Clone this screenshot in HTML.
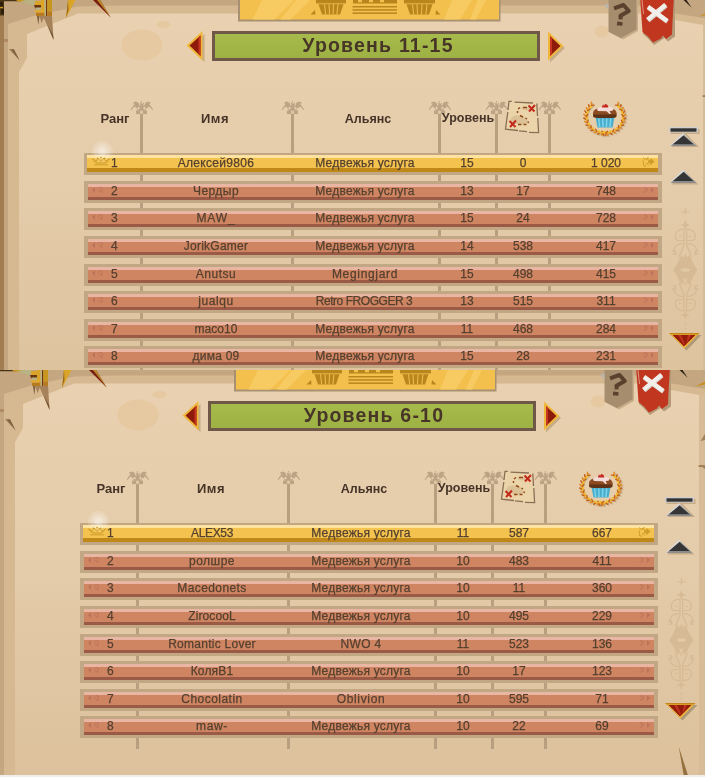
<!DOCTYPE html>
<html><head><meta charset="utf-8"><title>Ranking</title><style>
html,body{margin:0;padding:0}
body{width:705px;height:777px;overflow:hidden;position:relative;background:#dfc6a3;font-family:"Liberation Sans",sans-serif}
.panel{position:absolute;width:709px;overflow:hidden;background:linear-gradient(#e9d1b1 0px,#e4cba9 200px,#dcc19c 407px)}
.panel *{position:absolute}
.bg{left:0;top:0}
.title{left:212px;top:31px;width:322px;height:24px;border:3px solid #6f5848;background:linear-gradient(#a7bb4c,#9db144);}
.title span{left:4px;right:0;top:-1px;height:24px;line-height:24px;text-align:center;font-weight:bold;font-size:19.5px;letter-spacing:1.2px;color:#473628}
.h{top:111px;height:16px;line-height:16px;font-weight:bold;font-size:12.5px;color:#463428;text-align:center;width:80px;margin-left:-40px;white-space:nowrap}
.row{left:84px;width:578px;height:22px;background:#c2a784}
.in{left:4px;top:3px;width:570px;height:16px;background:linear-gradient(#eab6a4 0,#eab6a4 3px,#d08562 3px,#d08562 13px,#9b5a45 13px)}
.gold .in{left:3px;top:2px;width:571px;height:17px;background:linear-gradient(#fde2a0 0,#fde2a0 3px,#f3c24f 3px,#f3c24f 13.3px,#c08818 13.3px)}
.c{top:0;height:17px;line-height:17px;font-size:12px;color:#54402f;text-align:center;width:140px;margin-left:-70px;white-space:nowrap}
.c{-webkit-text-stroke:.25px #54402f}
.c,.h,.title span{will-change:transform}
.c{top:-1px}
.gold .c{top:0}
</style></head><body>
<div class="panel" style="left:0px;top:0px;height:370px">
<svg class="bg" width="709" height="407" viewBox="0 0 709 407">
<ellipse cx="142" cy="45" rx="20.5" ry="15.5" fill="#e6c9a0"/>
<ellipse cx="163.5" cy="24.5" rx="7" ry="3.5" fill="#e6c9a0"/>
<ellipse cx="602" cy="31.500" rx="7.500" ry="6" fill="#e6c9a0"/>
<!-- top band -->
<path d="M0 0H709V26L675 20 640 13.500 78 13.500 27 34V58L19 72V407H0z" fill="#d6b991"/>
<path d="M0 0H709V19L673 13 640 5.500 120 5.500 78 6.500 37 15 8 24V407H0z" fill="#c4a680"/>
<rect x="0" y="0" width="4" height="407" fill="#a37d52"/>
<rect x="4" y="39" width="4" height="3" fill="#d2b38b"/>
<rect x="703" y="25" width="6" height="382" fill="#d8bc97"/>
<!-- top-left dark texture -->
<path d="M0 0H20V1.200H4V15.500H0z" fill="#4a3514"/>
<path d="M0 2h3v4H0zM1 9h3v5H1z" fill="#2e1f0a"/>
<path d="M0 7h3v1.200H0zM16 0h10l-2 2.500-6-1z" fill="#c8961e"/>
<path d="M20 1.500L26 0H36.500L35 4 32.500 5.500 27 3.500z" fill="#b9b383"/>
<rect x="4" y="39" width="4" height="3" fill="#b08a60"/>
<!-- spikes -->
<path d="M35 1h6.500v4H35z" fill="#d9a428"/>
<path d="M34 5h7v3.200h-6z" fill="#6b3510"/>
<path d="M35.500 7.500h5.500v2.700h-4z" fill="#b9b383"/>
<path d="M41 0h3.500v12.500H41z" fill="#d9a428"/>
<path d="M44.500 0h1.500v16h-1.500z" fill="#b9b383"/>
<path d="M46 0h1.200v16H46z" fill="#6b3510"/>
<path d="M47.200 0H52v11.500h-4.800z" fill="#c8961e"/>
<path d="M35 10.200h9.500v2.500H35z" fill="#e0aa30"/>
<path d="M36 12.700h8.500V16H36zM47.200 11.500H52V16h-4.800z" fill="#b87a20"/>
<path d="M37 16h2.500l-1.200 9z" fill="#7a6040"/>
<path d="M39.500 16H52l1.600 24-6.600-15-3.200-7.200-2.300 5.400z" fill="#a58259"/>
<path d="M47.500 25.500l6.100 14.500-.6-5z" fill="#6b5030"/>
<path d="M68 0h7.500l-9.500 18z" fill="#d9a428"/>
<path d="M68 0l-2 18 2.500-8z" fill="#9a6a1c"/>
<path d="M93 0h7l10.600 17.500z" fill="#7a1c10"/>
<path d="M97 0h3l10.600 17.500z" fill="#b98a2a"/>
<path d="M9 49l5 .5 5.600 11z" fill="#94774f"/>
<path d="M11.500 49.300l2.500.2 5.600 11z" fill="#7a6040"/>
<!-- top-right spikes -->
<path d="M683.500 0h3l5.200 7.800z" fill="#2c2014"/>
<path d="M709 11.500v3l-10 2z" fill="#c98f22"/>
<path d="M702 95.500h4v1.500h-3z" fill="#9a7a50"/>
<path d="M709 64l-4.500 7 4.500-1z" fill="#a58259"/>
<path d="M709 95l-6 0 6 4z" fill="#a58259"/>
<path d="M682.700 376.500L688 407h4.500z" fill="#94703f"/>
</svg>
<svg style="left:236px;top:0" width="266" height="23" viewBox="236 0 266 23">
<path d="M238 0H500.500V21.500H238z" fill="#a89172"/>
<path d="M240 0H499V19.500H240z" fill="#f3c04d"/>
<path d="M262 0h32l-19.500 19.500h-22zM296 0h14l-19.500 19.500h-10zM452 0h20l-12 19.500h-16zM478 0h8l-10 19.500h-6z" fill="#f7cb62"/>
<g fill="#b9851d">
<path d="M316 0h30v3.400h-30z"/>
<path d="M318.500 4.300h25l-3.500 10.200h-18z"/>
<path d="M310.500 14.500l4.500-4.500 .5 4.500z"/>
<path d="M404 0h31v3.400h-31z"/>
<path d="M406.500 4.300h26l-3.500 10.200h-19z"/>
<path d="M440.500 14.500l-4.500-4.500-.5 4.500z"/>
<path d="M353 0h5v2.200h4V0h7v2.200h4V0h7v2.200h4V0h13v3.600h-44z"/>
<rect x="352.500" y="6" width="44.500" height="1.500"/><rect x="352.500" y="9.200" width="44.500" height="1.500"/><rect x="352.500" y="12.400" width="44.500" height="1.500"/>
</g><g stroke="#f3c04d" stroke-width="1" fill="none"><path d="M324.500 4.300l1.200 10.200M329 4.300l.5 10.200M333.500 4.300l-.5 10.200M338 4.300l-1.200 10.200M412.500 4.300l1.200 10.200M417 4.300l.5 10.200M422 4.300l-.5 10.200M427 4.300l-1.200 10.200"/></g></svg>
<svg style="left:184px;top:29px" width="24" height="35" viewBox="184 29 24 35">
<path d="M189 47.500L204.500 34V62z" fill="#b99c78" opacity=".7"/>
<path d="M186.500 45.500L202.500 31V60.500z" fill="#f0b83a"/>
<path d="M189.500 45.500L200.500 35.500V56z" fill="#8d1a0b"/>
<path d="M198.500 37.500l2-2V56l-2-2z" fill="#c5351f"/>
</svg>
<svg style="left:545px;top:29px" width="24" height="35" viewBox="545 29 24 35">
<path d="M565 48L550 34.500V62.500z" fill="#b99c78" opacity=".7"/>
<path d="M563.500 46L548 31.500V60.500z" fill="#f0b83a"/>
<path d="M560.500 46L550 36V56z" fill="#8d1a0b"/>
<path d="M550 36l2 2V54l-2 2z" fill="#c5351f"/>
</svg>
<div class="title"><span>Уровень 11-15</span></div>
<svg style="left:600px;top:0" width="80" height="50" viewBox="600 0 80 50">
<path d="M610 0H638V31L623 39.500 610.500 33z" fill="#c9ad88"/>
<path d="M608.500 0H636.500V29.500L621 38 608.500 31.800z" fill="#a68d6e"/>
<path d="M608.500 3.500l-4.500 1.500 4.500 4.500z" fill="#b9b5aa"/>
<path d="M614 8.300L623.500 5 628.800 11 620.500 15.800 620.700 19.300" fill="none" stroke="#59412e" stroke-width="4" stroke-linejoin="round"/>
<path d="M617.300 21.600l5.400 .6 -.5 3.600 -5.400-.6z" fill="#59412e"/>
<path d="M642.500 0H675V36.500L668 41.500 664.500 38 654 45 647 37.500 643 34z" fill="#b49a78"/>
<path d="M640.300 0H673.800L672.500 22 672 34.500 666 39 663 35.500 661 38.500 653 42.500 648 36.500 642.500 32z" fill="#c1361e"/>
<path d="M642 0l1.500 14" stroke="#e8b0a0" stroke-width=".8"/>
<g stroke="#d9d4cf" stroke-width="4.600" stroke-linecap="butt"><path d="M648.500 7.700L667.500 21.700"/><path d="M666 5.500L648 20.500"/></g>
<g stroke="#f2efeb" stroke-width="4.200" stroke-linecap="butt"><path d="M648 6.700L667 20.700"/><path d="M665.500 4.500L647.500 19.500"/></g>
</svg>
<div style="left:140.0px;top:113px;width:3px;height:266px;background:#b89f7f"></div>
<svg style="left:128.0px;top:99px" width="27" height="17" viewBox="128 99 27 17"><g fill="#bca383">
<rect x="136" y="110.600" width="11" height="3.500"/><rect x="137.300" y="107.500" width="8.400" height="3.200"/>
<path d="M141 101h1v3.500l1.200-1.800 .9 .4-1 3.200 1.600-1.300 .6-2.300 2.600-1.200 2.400 .7 .3 1.500-1.700-.2 1.200 1.700 1.600 2 1.400 2.600-.7 .4-2-2.700-2-1.200-.3 1.600-2.300 .4-1.300 1.800h-5.200l-1.300-1.800-2.300-.4-.3-1.600-2 1.200-2 2.700-.7-.4 1.400-2.600 1.600-2 1.200-1.700-1.700 .2 .3-1.500 2.400-.7 2.600 1.200 .6 2.300 1.600 1.300-1-3.200 .9-.4 1.200 1.800z"/>
</g><rect x="140.200" y="110.900" width="2.600" height="2.900" fill="#e3caa8"/>
<path d="M138.500 106.500l1.300 1-.3 1.700-1.500 .3-.8-1.500zM144.500 106.500l-1.300 1 .3 1.700 1.500 .3 .8-1.500z" fill="#e3caa8"/></svg>
<div style="left:291.0px;top:113px;width:3px;height:266px;background:#b89f7f"></div>
<svg style="left:279.0px;top:99px" width="27" height="17" viewBox="128 99 27 17"><g fill="#bca383">
<rect x="136" y="110.600" width="11" height="3.500"/><rect x="137.300" y="107.500" width="8.400" height="3.200"/>
<path d="M141 101h1v3.500l1.200-1.800 .9 .4-1 3.200 1.600-1.300 .6-2.300 2.600-1.200 2.400 .7 .3 1.500-1.700-.2 1.200 1.700 1.600 2 1.400 2.600-.7 .4-2-2.700-2-1.200-.3 1.600-2.300 .4-1.300 1.800h-5.200l-1.300-1.800-2.300-.4-.3-1.600-2 1.200-2 2.700-.7-.4 1.400-2.600 1.600-2 1.200-1.700-1.700 .2 .3-1.500 2.400-.7 2.600 1.200 .6 2.300 1.600 1.300-1-3.200 .9-.4 1.200 1.800z"/>
</g><rect x="140.200" y="110.900" width="2.600" height="2.900" fill="#e3caa8"/>
<path d="M138.500 106.500l1.300 1-.3 1.700-1.500 .3-.8-1.500zM144.500 106.500l-1.300 1 .3 1.700 1.500 .3 .8-1.500z" fill="#e3caa8"/></svg>
<div style="left:438.0px;top:113px;width:3px;height:266px;background:#b89f7f"></div>
<svg style="left:426.0px;top:99px" width="27" height="17" viewBox="128 99 27 17"><g fill="#bca383">
<rect x="136" y="110.600" width="11" height="3.500"/><rect x="137.300" y="107.500" width="8.400" height="3.200"/>
<path d="M141 101h1v3.500l1.200-1.800 .9 .4-1 3.200 1.600-1.300 .6-2.300 2.600-1.200 2.400 .7 .3 1.500-1.700-.2 1.200 1.700 1.600 2 1.400 2.600-.7 .4-2-2.700-2-1.200-.3 1.600-2.300 .4-1.300 1.800h-5.200l-1.300-1.800-2.300-.4-.3-1.600-2 1.200-2 2.700-.7-.4 1.400-2.600 1.600-2 1.200-1.700-1.700 .2 .3-1.500 2.400-.7 2.600 1.200 .6 2.300 1.600 1.300-1-3.200 .9-.4 1.200 1.800z"/>
</g><rect x="140.200" y="110.900" width="2.600" height="2.900" fill="#e3caa8"/>
<path d="M138.500 106.500l1.300 1-.3 1.700-1.500 .3-.8-1.500zM144.500 106.500l-1.300 1 .3 1.700 1.500 .3 .8-1.500z" fill="#e3caa8"/></svg>
<div style="left:495.0px;top:113px;width:3px;height:266px;background:#b89f7f"></div>
<svg style="left:483.0px;top:99px" width="27" height="17" viewBox="128 99 27 17"><g fill="#bca383">
<rect x="136" y="110.600" width="11" height="3.500"/><rect x="137.300" y="107.500" width="8.400" height="3.200"/>
<path d="M141 101h1v3.500l1.200-1.800 .9 .4-1 3.200 1.600-1.300 .6-2.300 2.600-1.200 2.400 .7 .3 1.500-1.700-.2 1.200 1.700 1.600 2 1.400 2.600-.7 .4-2-2.700-2-1.200-.3 1.600-2.300 .4-1.300 1.800h-5.200l-1.300-1.800-2.300-.4-.3-1.600-2 1.200-2 2.700-.7-.4 1.400-2.600 1.600-2 1.200-1.700-1.700 .2 .3-1.500 2.400-.7 2.600 1.200 .6 2.300 1.600 1.300-1-3.200 .9-.4 1.200 1.800z"/>
</g><rect x="140.200" y="110.900" width="2.600" height="2.900" fill="#e3caa8"/>
<path d="M138.500 106.500l1.300 1-.3 1.700-1.500 .3-.8-1.500zM144.500 106.500l-1.300 1 .3 1.700 1.500 .3 .8-1.500z" fill="#e3caa8"/></svg>
<div style="left:548.0px;top:113px;width:3px;height:266px;background:#b89f7f"></div>
<svg style="left:536.0px;top:99px" width="27" height="17" viewBox="128 99 27 17"><g fill="#bca383">
<rect x="136" y="110.600" width="11" height="3.500"/><rect x="137.300" y="107.500" width="8.400" height="3.200"/>
<path d="M141 101h1v3.500l1.200-1.800 .9 .4-1 3.200 1.600-1.300 .6-2.300 2.600-1.200 2.400 .7 .3 1.500-1.700-.2 1.200 1.700 1.600 2 1.400 2.600-.7 .4-2-2.700-2-1.200-.3 1.600-2.300 .4-1.300 1.800h-5.200l-1.300-1.800-2.300-.4-.3-1.600-2 1.200-2 2.700-.7-.4 1.400-2.600 1.600-2 1.200-1.700-1.700 .2 .3-1.500 2.400-.7 2.600 1.200 .6 2.300 1.600 1.300-1-3.200 .9-.4 1.200 1.800z"/>
</g><rect x="140.200" y="110.900" width="2.600" height="2.900" fill="#e3caa8"/>
<path d="M138.500 106.500l1.300 1-.3 1.700-1.500 .3-.8-1.500zM144.500 106.500l-1.300 1 .3 1.700 1.500 .3 .8-1.500z" fill="#e3caa8"/></svg>
<div class="h" style="left:115.2px;font-size:13px">Ранг</div>
<div class="h" style="left:215.3px;font-size:13px;letter-spacing:.5px">Имя</div>
<div class="h" style="left:367.7px;">Альянс</div>
<div class="h" style="left:468.3px;top:110px">Уровень</div>
<svg style="left:503px;top:98px" width="40" height="38" viewBox="503 98 40 38">
<path d="M509 101.200L537 103 538.700 132.700 526 131.500 505.300 129.200z" fill="#ecd4aa"/>
<g fill="none" stroke="#8a6f57" stroke-width="1.300"><path d="M511.800 101.300H509L508 110M507.800 112L505.500 129.200 518 130.500"/><path d="M514.500 102.200L533 103"/><path d="M536.800 103.500L537.500 116M537.800 118L538.600 132.600 529 132.400M527 131.600L519 130.800"/></g>
<path d="M511 118c3-4 9-3 13-1s5 6 1 7-9 0-12-1-3-3-2-5z" fill="#dcc096"/>
<path d="M521 108c2-2 6-1.500 8 0s-1 3-3 2.500-4-1-5-2.500z" fill="#dcc096"/>
<g stroke="#8f4a18" stroke-width="1.500" fill="none"><path d="M527 107.500h-4M520 107.500l-2 1.500M517.500 111v2M520 115.500l3 1.500M525.500 118l1.500 1M528.500 121.500l-.5 1.500M526.500 124.500h-3M521.500 124.500h-3.500"/></g>
<g stroke="#c12a1a" stroke-width="2" fill="none"><path d="M528.500 105.500l6 6M535 105l-6 6.500"/><path d="M509.500 121l6 6M516 120.500l-6 6.500"/></g>
</svg>
<svg style="left:580px;top:96px" width="50" height="44" viewBox="580 96 50 44">
<path d="M609.9 132.4 L608.0 132.8 L606.1 133.0 L604.2 133.0 L602.2 132.8 L600.3 132.5 L598.4 132.0 L596.6 131.4 L594.9 130.5 L593.3 129.6 L591.9 128.5 L590.6 127.2 L589.4 125.9 L588.4 124.4 L587.6 122.9 L586.9 121.3 L586.5 119.6 L586.2 117.9 L586.2 116.2 L586.4 114.5 L586.8 112.9 L587.3 111.3 L588.1 109.7 L589.0 108.2 L590.1 106.8 L591.4 105.5 L592.8 104.4" transform="translate(1.2 1.2)" stroke="#b9a283" stroke-width="1.600" fill="none" opacity=".7"/><path d="M608.6 134.0L606.9 136.6" stroke="#b9a283" stroke-width="1.500" stroke-linecap="round" opacity=".6"/><path d="M605.0 134.2L602.8 136.4" stroke="#b9a283" stroke-width="1.500" stroke-linecap="round" opacity=".6"/><path d="M601.5 133.7L598.9 135.5" stroke="#b9a283" stroke-width="1.500" stroke-linecap="round" opacity=".6"/><path d="M598.1 132.7L595.3 133.9" stroke="#b9a283" stroke-width="1.500" stroke-linecap="round" opacity=".6"/><path d="M595.1 131.1L592.0 131.7" stroke="#b9a283" stroke-width="1.500" stroke-linecap="round" opacity=".6"/><path d="M592.4 129.0L589.3 129.1" stroke="#b9a283" stroke-width="1.500" stroke-linecap="round" opacity=".6"/><path d="M590.2 126.6L587.2 126.1" stroke="#b9a283" stroke-width="1.500" stroke-linecap="round" opacity=".6"/><path d="M588.6 123.8L585.7 122.7" stroke="#b9a283" stroke-width="1.500" stroke-linecap="round" opacity=".6"/><path d="M587.7 120.8L585.0 119.2" stroke="#b9a283" stroke-width="1.500" stroke-linecap="round" opacity=".6"/><path d="M587.4 117.7L585.1 115.6" stroke="#b9a283" stroke-width="1.500" stroke-linecap="round" opacity=".6"/><path d="M587.8 114.6L586.0 112.1" stroke="#b9a283" stroke-width="1.500" stroke-linecap="round" opacity=".6"/><path d="M588.9 111.7L587.5 108.9" stroke="#b9a283" stroke-width="1.500" stroke-linecap="round" opacity=".6"/><path d="M590.6 108.9L589.8 105.9" stroke="#b9a283" stroke-width="1.500" stroke-linecap="round" opacity=".6"/><path d="M592.8 106.5L592.6 103.5" stroke="#b9a283" stroke-width="1.500" stroke-linecap="round" opacity=".6"/><path d="M599.7 132.4 L601.6 132.8 L603.5 133.0 L605.4 133.0 L607.4 132.8 L609.3 132.5 L611.2 132.0 L613.0 131.4 L614.7 130.5 L616.3 129.6 L617.7 128.5 L619.0 127.2 L620.2 125.9 L621.2 124.4 L622.0 122.9 L622.7 121.3 L623.1 119.6 L623.4 117.9 L623.4 116.2 L623.2 114.5 L622.8 112.9 L622.3 111.3 L621.5 109.7 L620.6 108.2 L619.5 106.8 L618.2 105.5 L616.8 104.4" transform="translate(1.2 1.2)" stroke="#b9a283" stroke-width="1.600" fill="none" opacity=".7"/><path d="M603.4 134.0L605.1 136.6" stroke="#b9a283" stroke-width="1.500" stroke-linecap="round" opacity=".6"/><path d="M607.0 134.2L609.2 136.4" stroke="#b9a283" stroke-width="1.500" stroke-linecap="round" opacity=".6"/><path d="M610.5 133.7L613.1 135.5" stroke="#b9a283" stroke-width="1.500" stroke-linecap="round" opacity=".6"/><path d="M613.9 132.7L616.7 133.9" stroke="#b9a283" stroke-width="1.500" stroke-linecap="round" opacity=".6"/><path d="M616.9 131.1L620.0 131.7" stroke="#b9a283" stroke-width="1.500" stroke-linecap="round" opacity=".6"/><path d="M619.6 129.0L622.7 129.1" stroke="#b9a283" stroke-width="1.500" stroke-linecap="round" opacity=".6"/><path d="M621.8 126.6L624.8 126.1" stroke="#b9a283" stroke-width="1.500" stroke-linecap="round" opacity=".6"/><path d="M623.4 123.8L626.3 122.7" stroke="#b9a283" stroke-width="1.500" stroke-linecap="round" opacity=".6"/><path d="M624.3 120.8L627.0 119.2" stroke="#b9a283" stroke-width="1.500" stroke-linecap="round" opacity=".6"/><path d="M624.6 117.7L626.9 115.6" stroke="#b9a283" stroke-width="1.500" stroke-linecap="round" opacity=".6"/><path d="M624.2 114.6L626.0 112.1" stroke="#b9a283" stroke-width="1.500" stroke-linecap="round" opacity=".6"/><path d="M623.1 111.7L624.5 108.9" stroke="#b9a283" stroke-width="1.500" stroke-linecap="round" opacity=".6"/><path d="M621.4 108.9L622.2 105.9" stroke="#b9a283" stroke-width="1.500" stroke-linecap="round" opacity=".6"/><path d="M619.2 106.5L619.4 103.5" stroke="#b9a283" stroke-width="1.500" stroke-linecap="round" opacity=".6"/><path d="M609.9 132.4 L608.0 132.8 L606.1 133.0 L604.2 133.0 L602.2 132.8 L600.3 132.5 L598.4 132.0 L596.6 131.4 L594.9 130.5 L593.3 129.6 L591.9 128.5 L590.6 127.2 L589.4 125.9 L588.4 124.4 L587.6 122.9 L586.9 121.3 L586.5 119.6 L586.2 117.9 L586.2 116.2 L586.4 114.5 L586.8 112.9 L587.3 111.3 L588.1 109.7 L589.0 108.2 L590.1 106.8 L591.4 105.5 L592.8 104.4" stroke="#f3bd2f" stroke-width="1.400" fill="none"/><path d="M607.4 132.8L605.7 135.4" stroke="#c4621b" stroke-width="1.500" stroke-linecap="round"/><path d="M607.4 132.8L605.1 131.5" stroke="#f3bd2f" stroke-width="1.300" stroke-linecap="round"/><path d="M603.8 133.0L601.6 135.2" stroke="#e08a22" stroke-width="1.500" stroke-linecap="round"/><path d="M603.8 133.0L601.9 131.3" stroke="#c4621b" stroke-width="1.300" stroke-linecap="round"/><path d="M600.3 132.5L597.7 134.3" stroke="#c4621b" stroke-width="1.500" stroke-linecap="round"/><path d="M600.3 132.5L598.7 130.5" stroke="#f3bd2f" stroke-width="1.300" stroke-linecap="round"/><path d="M596.9 131.5L594.1 132.7" stroke="#e08a22" stroke-width="1.500" stroke-linecap="round"/><path d="M596.9 131.5L595.7 129.2" stroke="#c4621b" stroke-width="1.300" stroke-linecap="round"/><path d="M593.9 129.9L590.8 130.5" stroke="#c4621b" stroke-width="1.500" stroke-linecap="round"/><path d="M593.9 129.9L593.1 127.4" stroke="#f3bd2f" stroke-width="1.300" stroke-linecap="round"/><path d="M591.2 127.8L588.1 127.9" stroke="#e08a22" stroke-width="1.500" stroke-linecap="round"/><path d="M591.2 127.8L590.9 125.3" stroke="#c4621b" stroke-width="1.300" stroke-linecap="round"/><path d="M589.0 125.4L586.0 124.9" stroke="#c4621b" stroke-width="1.500" stroke-linecap="round"/><path d="M589.0 125.4L589.2 122.8" stroke="#f3bd2f" stroke-width="1.300" stroke-linecap="round"/><path d="M587.4 122.6L584.5 121.5" stroke="#e08a22" stroke-width="1.500" stroke-linecap="round"/><path d="M587.4 122.6L588.2 120.1" stroke="#c4621b" stroke-width="1.300" stroke-linecap="round"/><path d="M586.5 119.6L583.8 118.0" stroke="#c4621b" stroke-width="1.500" stroke-linecap="round"/><path d="M586.5 119.6L587.7 117.3" stroke="#f3bd2f" stroke-width="1.300" stroke-linecap="round"/><path d="M586.2 116.5L583.9 114.4" stroke="#e08a22" stroke-width="1.500" stroke-linecap="round"/><path d="M586.2 116.5L587.8 114.5" stroke="#c4621b" stroke-width="1.300" stroke-linecap="round"/><path d="M586.6 113.4L584.8 110.9" stroke="#c4621b" stroke-width="1.500" stroke-linecap="round"/><path d="M586.6 113.4L588.6 111.8" stroke="#f3bd2f" stroke-width="1.300" stroke-linecap="round"/><path d="M587.7 110.5L586.3 107.7" stroke="#e08a22" stroke-width="1.500" stroke-linecap="round"/><path d="M587.7 110.5L590.0 109.2" stroke="#c4621b" stroke-width="1.300" stroke-linecap="round"/><path d="M589.4 107.7L588.6 104.7" stroke="#c4621b" stroke-width="1.500" stroke-linecap="round"/><path d="M589.4 107.7L591.9 107.0" stroke="#f3bd2f" stroke-width="1.300" stroke-linecap="round"/><path d="M591.6 105.3L591.4 102.3" stroke="#e08a22" stroke-width="1.500" stroke-linecap="round"/><path d="M591.6 105.3L594.2 105.1" stroke="#c4621b" stroke-width="1.300" stroke-linecap="round"/><path d="M599.7 132.4 L601.6 132.8 L603.5 133.0 L605.4 133.0 L607.4 132.8 L609.3 132.5 L611.2 132.0 L613.0 131.4 L614.7 130.5 L616.3 129.6 L617.7 128.5 L619.0 127.2 L620.2 125.9 L621.2 124.4 L622.0 122.9 L622.7 121.3 L623.1 119.6 L623.4 117.9 L623.4 116.2 L623.2 114.5 L622.8 112.9 L622.3 111.3 L621.5 109.7 L620.6 108.2 L619.5 106.8 L618.2 105.5 L616.8 104.4" stroke="#f3bd2f" stroke-width="1.400" fill="none"/><path d="M602.2 132.8L603.9 135.4" stroke="#c4621b" stroke-width="1.500" stroke-linecap="round"/><path d="M602.2 132.8L604.5 131.5" stroke="#f3bd2f" stroke-width="1.300" stroke-linecap="round"/><path d="M605.8 133.0L608.0 135.2" stroke="#e08a22" stroke-width="1.500" stroke-linecap="round"/><path d="M605.8 133.0L607.7 131.3" stroke="#c4621b" stroke-width="1.300" stroke-linecap="round"/><path d="M609.3 132.5L611.9 134.3" stroke="#c4621b" stroke-width="1.500" stroke-linecap="round"/><path d="M609.3 132.5L610.9 130.5" stroke="#f3bd2f" stroke-width="1.300" stroke-linecap="round"/><path d="M612.7 131.5L615.5 132.7" stroke="#e08a22" stroke-width="1.500" stroke-linecap="round"/><path d="M612.7 131.5L613.9 129.2" stroke="#c4621b" stroke-width="1.300" stroke-linecap="round"/><path d="M615.7 129.9L618.8 130.5" stroke="#c4621b" stroke-width="1.500" stroke-linecap="round"/><path d="M615.7 129.9L616.5 127.4" stroke="#f3bd2f" stroke-width="1.300" stroke-linecap="round"/><path d="M618.4 127.8L621.5 127.9" stroke="#e08a22" stroke-width="1.500" stroke-linecap="round"/><path d="M618.4 127.8L618.7 125.3" stroke="#c4621b" stroke-width="1.300" stroke-linecap="round"/><path d="M620.6 125.4L623.6 124.9" stroke="#c4621b" stroke-width="1.500" stroke-linecap="round"/><path d="M620.6 125.4L620.4 122.8" stroke="#f3bd2f" stroke-width="1.300" stroke-linecap="round"/><path d="M622.2 122.6L625.1 121.5" stroke="#e08a22" stroke-width="1.500" stroke-linecap="round"/><path d="M622.2 122.6L621.4 120.1" stroke="#c4621b" stroke-width="1.300" stroke-linecap="round"/><path d="M623.1 119.6L625.8 118.0" stroke="#c4621b" stroke-width="1.500" stroke-linecap="round"/><path d="M623.1 119.6L621.9 117.3" stroke="#f3bd2f" stroke-width="1.300" stroke-linecap="round"/><path d="M623.4 116.5L625.7 114.4" stroke="#e08a22" stroke-width="1.500" stroke-linecap="round"/><path d="M623.4 116.5L621.8 114.5" stroke="#c4621b" stroke-width="1.300" stroke-linecap="round"/><path d="M623.0 113.4L624.8 110.9" stroke="#c4621b" stroke-width="1.500" stroke-linecap="round"/><path d="M623.0 113.4L621.0 111.8" stroke="#f3bd2f" stroke-width="1.300" stroke-linecap="round"/><path d="M621.9 110.5L623.3 107.7" stroke="#e08a22" stroke-width="1.500" stroke-linecap="round"/><path d="M621.9 110.5L619.6 109.2" stroke="#c4621b" stroke-width="1.300" stroke-linecap="round"/><path d="M620.2 107.7L621.0 104.7" stroke="#c4621b" stroke-width="1.500" stroke-linecap="round"/><path d="M620.2 107.7L617.7 107.0" stroke="#f3bd2f" stroke-width="1.300" stroke-linecap="round"/><path d="M618.0 105.3L618.2 102.3" stroke="#e08a22" stroke-width="1.500" stroke-linecap="round"/><path d="M618.0 105.3L615.4 105.1" stroke="#c4621b" stroke-width="1.300" stroke-linecap="round"/>
<path d="M595.500 117h19l-2 10.500h-15z" fill="#48aecb"/>
<path d="M598 118.500h1.500l.8 8.500h-1.500zM602 118.500h1.500l.3 8.500h-1.500zM606 118.500h1.500l-.3 8.500h-1.500zM610 118.500h1.500l-.8 8.500h-1.500z" fill="#7fd3ea"/>
<path d="M593 113.500c0-3 2.500-4.500 4-4.800h15.500c2 .3 4 2 4.200 4.800l-.6 3.200c-4 1.200-18 1.200-22.600 0z" fill="#8c4b20"/>
<path d="M593 114.500h23.700l-.6 2.700c-4 1.200-18 1.200-22.600 0z" fill="#5e3216"/>
<path d="M597 109.500c.5-2 3-2.600 5-2.600h7c2 0 4 .5 4.500 2.300l-1 1.600-3 .3 1.500 2.700-1.500.2-3-2.700-8.500-.3z" fill="#f3dcd8"/>
<path d="M602 107.500c0-2.600 1.500-3.600 3-3.600s3.300 1 3.300 3.600z" fill="#c3291c"/>
<rect x="603" y="104" width="2" height="1.300" fill="#e8a09a"/>
</svg>
<div class="row gold" style="top:153px"><div class="in">
<svg style="left:0px;top:-17px;overflow:visible" width="30" height="30" viewBox="87 138 30 30"><defs><radialGradient id="g0"><stop offset="0" stop-color="#fff" stop-opacity=".55"/><stop offset=".38" stop-color="#fff" stop-opacity=".45"/><stop offset=".42" stop-color="#fff" stop-opacity=".32"/><stop offset=".7" stop-color="#fff" stop-opacity=".28"/><stop offset=".75" stop-color="#fff" stop-opacity=".16"/><stop offset=".96" stop-color="#fff" stop-opacity=".13"/><stop offset="1" stop-color="#fff" stop-opacity="0"/></radialGradient></defs><circle cx="102.400" cy="151.300" r="10.800" fill="url(#g0)"/>
<g stroke="#c4921d" stroke-width=".75" fill="none" stroke-linejoin="round"><path d="M92.500 158.800L96 163h10l3.500-4.200-3.800 2.600-1.600-3.400-3.100 3.400-3.100-3.400-1.600 3.400z"/><path d="M94 164.800h14"/></g><g fill="#c4921d"><circle cx="101" cy="157.600" r=".8"/><circle cx="97.500" cy="158.300" r=".7"/><circle cx="104.500" cy="158.300" r=".7"/></g></svg>
<div class="c" style="left:24px;width:30px;margin-left:0;text-align:left">1</div>
<div class="c" style="left:129.16px;letter-spacing:0.31px">Алексей9806</div>
<div class="c" style="left:277.62px;letter-spacing:0.23px">Медвежья услуга</div>
<div class="c" style="left:380px">15</div>
<div class="c" style="left:436px">0</div>
<div class="c" style="left:519px">1 020</div>
<svg style="left:553px;top:1px" width="18" height="13" viewBox="553 1 18 13"><g stroke="#cf9d28" stroke-width="1" fill="none"><path d="M556.500 2.500l1 2M556 5.500c.5 2 .5 4 .8 5.500h2.500M559 5c1.500-1.500 3.500-.5 3 1.500s-2 2.500-3 2M560 8.500l2 2M558.500 4l3-1.500"/></g><path d="M561.500 5h2V3l4 3.600-4 3.600v-2h-2z" fill="#cf9d28"/></svg>
</div></div>
<div class="row" style="top:181px"><div class="in">
<svg style="left:2px;top:2px" width="16" height="9" viewBox="2 2 16 9"><path d="M4 6L7 3.200V8.900z" fill="#ba7259"/><g stroke="#ba7259" stroke-width=".9" fill="none"><path d="M10.500 4.500c.5-1 2.500-1.200 3.500-.3s.3 2.600-1 2.600M10.300 5.500l2.200 2.500h2.500"/></g></svg>
<div class="c" style="left:23px;width:30px;margin-left:0;text-align:left">2</div>
<div class="c" style="left:128.22px;letter-spacing:0.45px">Чердыр</div>
<div class="c" style="left:276.62px;letter-spacing:0.23px">Медвежья услуга</div>
<div class="c" style="left:379px">13</div>
<div class="c" style="left:435px">17</div>
<div class="c" style="left:518px">748</div>
<svg style="left:553px;top:2px" width="16" height="9" viewBox="553 2 16 9"><g stroke="#ba7259" stroke-width=".9" fill="none"><path d="M556 4.500c1.200-1.200 3.600-.6 3.400 1.200S557 8.500 555.500 8M557 5.500l1.200 1"/></g><path d="M563 3.200l3 2.900-3 2.800z" fill="#ba7259"/></svg>
</div></div>
<div class="row" style="top:208px"><div class="in">
<svg style="left:2px;top:2px" width="16" height="9" viewBox="2 2 16 9"><path d="M4 6L7 3.200V8.900z" fill="#ba7259"/><g stroke="#ba7259" stroke-width=".9" fill="none"><path d="M10.500 4.500c.5-1 2.500-1.200 3.500-.3s.3 2.600-1 2.600M10.300 5.500l2.200 2.500h2.500"/></g></svg>
<div class="c" style="left:23px;width:30px;margin-left:0;text-align:left">3</div>
<div class="c" style="left:128.44px;letter-spacing:0.88px">MAW_</div>
<div class="c" style="left:276.62px;letter-spacing:0.23px">Медвежья услуга</div>
<div class="c" style="left:379px">15</div>
<div class="c" style="left:435px">24</div>
<div class="c" style="left:518px">728</div>
<svg style="left:553px;top:2px" width="16" height="9" viewBox="553 2 16 9"><g stroke="#ba7259" stroke-width=".9" fill="none"><path d="M556 4.500c1.200-1.200 3.600-.6 3.400 1.200S557 8.500 555.500 8M557 5.500l1.200 1"/></g><path d="M563 3.200l3 2.900-3 2.800z" fill="#ba7259"/></svg>
</div></div>
<div class="row" style="top:236px"><div class="in">
<svg style="left:2px;top:2px" width="16" height="9" viewBox="2 2 16 9"><path d="M4 6L7 3.200V8.900z" fill="#ba7259"/><g stroke="#ba7259" stroke-width=".9" fill="none"><path d="M10.500 4.500c.5-1 2.500-1.200 3.500-.3s.3 2.600-1 2.600M10.300 5.500l2.200 2.500h2.500"/></g></svg>
<div class="c" style="left:23px;width:30px;margin-left:0;text-align:left">4</div>
<div class="c" style="left:128.13px;letter-spacing:0.26px">JorikGamer</div>
<div class="c" style="left:276.62px;letter-spacing:0.23px">Медвежья услуга</div>
<div class="c" style="left:379px">14</div>
<div class="c" style="left:435px">538</div>
<div class="c" style="left:518px">417</div>
<svg style="left:553px;top:2px" width="16" height="9" viewBox="553 2 16 9"><g stroke="#ba7259" stroke-width=".9" fill="none"><path d="M556 4.500c1.200-1.200 3.600-.6 3.400 1.200S557 8.500 555.500 8M557 5.500l1.200 1"/></g><path d="M563 3.200l3 2.900-3 2.800z" fill="#ba7259"/></svg>
</div></div>
<div class="row" style="top:264px"><div class="in">
<svg style="left:2px;top:2px" width="16" height="9" viewBox="2 2 16 9"><path d="M4 6L7 3.200V8.900z" fill="#ba7259"/><g stroke="#ba7259" stroke-width=".9" fill="none"><path d="M10.500 4.500c.5-1 2.500-1.200 3.500-.3s.3 2.600-1 2.600M10.300 5.500l2.200 2.500h2.500"/></g></svg>
<div class="c" style="left:23px;width:30px;margin-left:0;text-align:left">5</div>
<div class="c" style="left:128.25px;letter-spacing:0.49px">Anutsu</div>
<div class="c" style="left:276.84px;letter-spacing:0.68px">Megingjard</div>
<div class="c" style="left:379px">15</div>
<div class="c" style="left:435px">498</div>
<div class="c" style="left:518px">415</div>
<svg style="left:553px;top:2px" width="16" height="9" viewBox="553 2 16 9"><g stroke="#ba7259" stroke-width=".9" fill="none"><path d="M556 4.500c1.200-1.200 3.600-.6 3.400 1.200S557 8.500 555.500 8M557 5.500l1.200 1"/></g><path d="M563 3.200l3 2.900-3 2.800z" fill="#ba7259"/></svg>
</div></div>
<div class="row" style="top:291px"><div class="in">
<svg style="left:2px;top:2px" width="16" height="9" viewBox="2 2 16 9"><path d="M4 6L7 3.200V8.900z" fill="#ba7259"/><g stroke="#ba7259" stroke-width=".9" fill="none"><path d="M10.500 4.500c.5-1 2.500-1.200 3.500-.3s.3 2.600-1 2.600M10.300 5.500l2.200 2.500h2.500"/></g></svg>
<div class="c" style="left:23px;width:30px;margin-left:0;text-align:left">6</div>
<div class="c" style="left:128.29px;letter-spacing:0.59px">jualqu</div>
<div class="c" style="left:276.27px;letter-spacing:-0.45px">Retro FROGGER 3</div>
<div class="c" style="left:379px">13</div>
<div class="c" style="left:435px">515</div>
<div class="c" style="left:518px">311</div>
<svg style="left:553px;top:2px" width="16" height="9" viewBox="553 2 16 9"><g stroke="#ba7259" stroke-width=".9" fill="none"><path d="M556 4.500c1.200-1.200 3.600-.6 3.400 1.200S557 8.500 555.500 8M557 5.500l1.200 1"/></g><path d="M563 3.200l3 2.900-3 2.800z" fill="#ba7259"/></svg>
</div></div>
<div class="row" style="top:319px"><div class="in">
<svg style="left:2px;top:2px" width="16" height="9" viewBox="2 2 16 9"><path d="M4 6L7 3.200V8.900z" fill="#ba7259"/><g stroke="#ba7259" stroke-width=".9" fill="none"><path d="M10.500 4.500c.5-1 2.500-1.200 3.500-.3s.3 2.600-1 2.600M10.300 5.500l2.200 2.500h2.500"/></g></svg>
<div class="c" style="left:23px;width:30px;margin-left:0;text-align:left">7</div>
<div class="c" style="left:128.01px;letter-spacing:0.02px">maco10</div>
<div class="c" style="left:276.62px;letter-spacing:0.23px">Медвежья услуга</div>
<div class="c" style="left:379px">11</div>
<div class="c" style="left:435px">468</div>
<div class="c" style="left:518px">284</div>
<svg style="left:553px;top:2px" width="16" height="9" viewBox="553 2 16 9"><g stroke="#ba7259" stroke-width=".9" fill="none"><path d="M556 4.500c1.200-1.200 3.600-.6 3.400 1.200S557 8.500 555.500 8M557 5.500l1.200 1"/></g><path d="M563 3.200l3 2.900-3 2.800z" fill="#ba7259"/></svg>
</div></div>
<div class="row" style="top:346px"><div class="in">
<svg style="left:2px;top:2px" width="16" height="9" viewBox="2 2 16 9"><path d="M4 6L7 3.200V8.900z" fill="#ba7259"/><g stroke="#ba7259" stroke-width=".9" fill="none"><path d="M10.500 4.500c.5-1 2.500-1.200 3.500-.3s.3 2.600-1 2.600M10.300 5.500l2.200 2.500h2.500"/></g></svg>
<div class="c" style="left:23px;width:30px;margin-left:0;text-align:left">8</div>
<div class="c" style="left:128.12px;letter-spacing:0.25px">дима 09</div>
<div class="c" style="left:276.62px;letter-spacing:0.23px">Медвежья услуга</div>
<div class="c" style="left:379px">15</div>
<div class="c" style="left:435px">28</div>
<div class="c" style="left:518px">231</div>
<svg style="left:553px;top:2px" width="16" height="9" viewBox="553 2 16 9"><g stroke="#ba7259" stroke-width=".9" fill="none"><path d="M556 4.500c1.200-1.200 3.600-.6 3.400 1.200S557 8.500 555.500 8M557 5.500l1.200 1"/></g><path d="M563 3.200l3 2.900-3 2.800z" fill="#ba7259"/></svg>
</div></div>
<svg style="left:664px;top:122px" width="40" height="232" viewBox="664 122 40 232">
<!-- top button -->
<path d="M670.500 129h29v5h-13l12.500 13h-27.500l11-13h-12z" fill="#bfa27e" opacity=".8"/>
<rect x="669" y="127" width="29" height="5.500" fill="#cfcfcf"/>
<rect x="670.500" y="128.300" width="26" height="3.400" fill="#333"/>
<path d="M683 133l13.500 13h-27z" fill="#d8d8d8"/>
<path d="M684 135l12.500 11h-26z" fill="#8c8c8c"/>
<path d="M683.500 135.500l10 8.700h-20.500z" fill="#353535"/>
<!-- up -->
<path d="M685 171l13.500 13.500h-27z" fill="#bfa27e" opacity=".8"/>
<path d="M683 169.500l13.500 13.500h-27z" fill="#d8d8d8"/>
<path d="M684 171.500l12.500 11.500h-26z" fill="#8c8c8c"/>
<path d="M683.500 172l10 9h-20.500z" fill="#353535"/>
<!-- ornament -->
<g fill="none" stroke="#d5ba95" stroke-width="1.100"><path d="M685.300 208v6.500M681 212h8.600"/><path d="M685.300 322.500v3M685.300 327.500v2.500"/></g>
<g fill="none" stroke="#d5ba95" stroke-width="1.200">
<path d="M684 228.500v15M686.600 228.500v15"/>
<path d="M684 229.500c-4-.5-8 1.500-8.500 5s.5 5.500 2.500 6h5.500"/>
<path d="M686.600 229.500c4-.5 8 1.500 8.500 5s-.5 5.500-2.500 6h-5.500"/>
<path d="M679 236.500h2.500M691.600 236.500h-2.500"/>
<path d="M684 243.800c-4-.5-8.500 1-9.500 4.500s.5 5 2 5M686.600 243.800c4-.5 8.500 1 9.500 4.500s-.5 5-2 5"/>
<path d="M672 251.500l2-1 2 1.500M672.500 254.200h4M698.600 251.500l-2-1-2 1.500M698.100 254.200h-4"/>
<path d="M684.500 244l-5.500 13M686.100 244l5.500 13"/>
<path d="M685.300 220l1.300 3.700 3.400 1.300-3.400 1.300-1.300 3.700-1.300-3.700-3.400-1.300 3.400-1.300z" fill="#d5ba95" stroke="none"/>
<path d="M680 257.500l2-2.500 1.500 3 1.800-4.500 1.800 4.500 1.500-3 2 2.500 2.500 5.500 4 7h-23.600l4-7z" fill="#d5ba95" stroke="none"/>
<path d="M673 270l4.500-4.500v4.500zM697.600 270l-4.500-4.500v4.500z" fill="#d5ba95" stroke="none"/>
</g>
<g transform="translate(0 540) scale(1 -1)" fill="none" stroke="#d5ba95" stroke-width="1.200">
<path d="M684 228.500v15M686.600 228.500v15"/>
<path d="M684 229.500c-4-.5-8 1.500-8.500 5s.5 5.500 2.500 6h5.500"/>
<path d="M686.600 229.500c4-.5 8 1.500 8.500 5s-.5 5.500-2.500 6h-5.500"/>
<path d="M679 236.500h2.500M691.600 236.500h-2.500"/>
<path d="M684 243.800c-4-.5-8.500 1-9.500 4.500s.5 5 2 5M686.600 243.800c4-.5 8.500 1 9.500 4.500s-.5 5-2 5"/>
<path d="M672 251.500l2-1 2 1.500M672.500 254.200h4M698.600 251.500l-2-1-2 1.500M698.100 254.200h-4"/>
<path d="M684.500 244l-5.500 13M686.100 244l5.500 13"/>
<path d="M685.300 220l1.300 3.700 3.400 1.300-3.400 1.300-1.300 3.700-1.300-3.700-3.400-1.300 3.400-1.300z" fill="#d5ba95" stroke="none"/>
<path d="M680 257.500l2-2.500 1.500 3 1.800-4.500 1.800 4.500 1.500-3 2 2.500 2.500 5.500 4 7h-23.600l4-7z" fill="#d5ba95" stroke="none"/>
<path d="M673 270l4.500-4.500v4.500zM697.600 270l-4.500-4.500v4.500z" fill="#d5ba95" stroke="none"/>
</g>
<ellipse cx="685.300" cy="270" rx="4.300" ry="1.800" fill="#e2c9a6"/>
<path d="M683 277l2.300 8 2.300-8-2.300 2.500z" fill="#e2c9a6"/>
<!-- down -->
<path d="M671 335h30.500l-15 15.500z" fill="#9c8a6c" opacity=".75"/>
<path d="M669 333h30.500l-15 15.500z" fill="#f0b83a"/>
<path d="M669 333h30.500l-1.500 1.600h-27.500z" fill="#c4851a"/>
<path d="M672.500 335h23l-11.500 11.500z" fill="#951b0b"/>
<path d="M678 335h3l4 9-1 1zM688 335h3l-5 10z" fill="#c0331d"/>
</svg>
</div>
<div class="panel" style="left:-4px;top:370px;height:407px">
<svg class="bg" width="709" height="407" viewBox="0 0 709 407">
<ellipse cx="142" cy="45" rx="20.5" ry="15.5" fill="#e6c9a0"/>
<ellipse cx="163.5" cy="24.5" rx="7" ry="3.5" fill="#e6c9a0"/>
<ellipse cx="602" cy="31.500" rx="7.500" ry="6" fill="#e6c9a0"/>
<!-- top band -->
<path d="M0 0H709V26L675 20 640 13.500 78 13.500 27 34V58L19 72V407H0z" fill="#d6b991"/>
<path d="M0 0H709V19L673 13 640 5.500 120 5.500 78 6.500 37 15 8 24V407H0z" fill="#c4a680"/>
<rect x="0" y="0" width="4" height="407" fill="#a37d52"/>
<rect x="4" y="39" width="4" height="3" fill="#d2b38b"/>
<rect x="703" y="25" width="6" height="382" fill="#d8bc97"/>
<!-- top-left dark texture -->
<path d="M0 0H20V1.200H4V15.500H0z" fill="#4a3514"/>
<path d="M0 2h3v4H0zM1 9h3v5H1z" fill="#2e1f0a"/>
<path d="M0 7h3v1.200H0zM16 0h10l-2 2.500-6-1z" fill="#c8961e"/>
<path d="M20 1.500L26 0H36.500L35 4 32.500 5.500 27 3.500z" fill="#b9b383"/>
<rect x="4" y="39" width="4" height="3" fill="#b08a60"/>
<!-- spikes -->
<path d="M35 1h6.500v4H35z" fill="#d9a428"/>
<path d="M34 5h7v3.200h-6z" fill="#6b3510"/>
<path d="M35.500 7.500h5.500v2.700h-4z" fill="#b9b383"/>
<path d="M41 0h3.500v12.500H41z" fill="#d9a428"/>
<path d="M44.500 0h1.500v16h-1.500z" fill="#b9b383"/>
<path d="M46 0h1.200v16H46z" fill="#6b3510"/>
<path d="M47.200 0H52v11.500h-4.800z" fill="#c8961e"/>
<path d="M35 10.200h9.500v2.500H35z" fill="#e0aa30"/>
<path d="M36 12.700h8.500V16H36zM47.200 11.500H52V16h-4.800z" fill="#b87a20"/>
<path d="M37 16h2.500l-1.200 9z" fill="#7a6040"/>
<path d="M39.500 16H52l1.600 24-6.600-15-3.200-7.200-2.300 5.400z" fill="#a58259"/>
<path d="M47.500 25.500l6.100 14.500-.6-5z" fill="#6b5030"/>
<path d="M68 0h7.500l-9.500 18z" fill="#d9a428"/>
<path d="M68 0l-2 18 2.500-8z" fill="#9a6a1c"/>
<path d="M93 0h7l10.600 17.500z" fill="#7a1c10"/>
<path d="M97 0h3l10.600 17.500z" fill="#b98a2a"/>
<path d="M9 49l5 .5 5.600 11z" fill="#94774f"/>
<path d="M11.500 49.300l2.500.2 5.600 11z" fill="#7a6040"/>
<!-- top-right spikes -->
<path d="M683.500 0h3l5.200 7.800z" fill="#2c2014"/>
<path d="M709 11.500v3l-10 2z" fill="#c98f22"/>
<path d="M702 95.500h4v1.500h-3z" fill="#9a7a50"/>
<path d="M709 64l-4.500 7 4.500-1z" fill="#a58259"/>
<path d="M709 95l-6 0 6 4z" fill="#a58259"/>
<path d="M682.700 376.500L688 407h4.500z" fill="#94703f"/>
</svg>
<svg style="left:236px;top:0" width="266" height="23" viewBox="236 0 266 23">
<path d="M238 0H500.500V21.500H238z" fill="#a89172"/>
<path d="M240 0H499V19.500H240z" fill="#f3c04d"/>
<path d="M262 0h32l-19.500 19.500h-22zM296 0h14l-19.500 19.500h-10zM452 0h20l-12 19.500h-16zM478 0h8l-10 19.500h-6z" fill="#f7cb62"/>
<g fill="#b9851d">
<path d="M316 0h30v3.400h-30z"/>
<path d="M318.500 4.300h25l-3.500 10.200h-18z"/>
<path d="M310.500 14.500l4.500-4.500 .5 4.500z"/>
<path d="M404 0h31v3.400h-31z"/>
<path d="M406.500 4.300h26l-3.500 10.200h-19z"/>
<path d="M440.500 14.500l-4.500-4.500-.5 4.500z"/>
<path d="M353 0h5v2.200h4V0h7v2.200h4V0h7v2.200h4V0h13v3.600h-44z"/>
<rect x="352.500" y="6" width="44.500" height="1.500"/><rect x="352.500" y="9.200" width="44.500" height="1.500"/><rect x="352.500" y="12.400" width="44.500" height="1.500"/>
</g><g stroke="#f3c04d" stroke-width="1" fill="none"><path d="M324.500 4.300l1.200 10.200M329 4.300l.5 10.200M333.500 4.300l-.5 10.200M338 4.300l-1.200 10.200M412.500 4.300l1.200 10.200M417 4.300l.5 10.200M422 4.300l-.5 10.200M427 4.300l-1.200 10.200"/></g></svg>
<svg style="left:184px;top:29px" width="24" height="35" viewBox="184 29 24 35">
<path d="M189 47.500L204.500 34V62z" fill="#b99c78" opacity=".7"/>
<path d="M186.500 45.500L202.500 31V60.500z" fill="#f0b83a"/>
<path d="M189.500 45.500L200.500 35.500V56z" fill="#8d1a0b"/>
<path d="M198.500 37.500l2-2V56l-2-2z" fill="#c5351f"/>
</svg>
<svg style="left:545px;top:29px" width="24" height="35" viewBox="545 29 24 35">
<path d="M565 48L550 34.500V62.500z" fill="#b99c78" opacity=".7"/>
<path d="M563.500 46L548 31.500V60.500z" fill="#f0b83a"/>
<path d="M560.500 46L550 36V56z" fill="#8d1a0b"/>
<path d="M550 36l2 2V54l-2 2z" fill="#c5351f"/>
</svg>
<div class="title"><span>Уровень 6-10</span></div>
<svg style="left:600px;top:0" width="80" height="50" viewBox="600 0 80 50">
<path d="M610 0H638V31L623 39.500 610.500 33z" fill="#c9ad88"/>
<path d="M608.500 0H636.500V29.500L621 38 608.500 31.800z" fill="#a68d6e"/>
<path d="M608.500 3.500l-4.500 1.500 4.500 4.500z" fill="#b9b5aa"/>
<path d="M614 8.300L623.500 5 628.800 11 620.500 15.800 620.700 19.300" fill="none" stroke="#59412e" stroke-width="4" stroke-linejoin="round"/>
<path d="M617.300 21.600l5.400 .6 -.5 3.600 -5.400-.6z" fill="#59412e"/>
<path d="M642.500 0H675V36.500L668 41.500 664.500 38 654 45 647 37.500 643 34z" fill="#b49a78"/>
<path d="M640.300 0H673.800L672.500 22 672 34.500 666 39 663 35.500 661 38.500 653 42.500 648 36.500 642.500 32z" fill="#c1361e"/>
<path d="M642 0l1.500 14" stroke="#e8b0a0" stroke-width=".8"/>
<g stroke="#d9d4cf" stroke-width="4.600" stroke-linecap="butt"><path d="M648.500 7.700L667.500 21.700"/><path d="M666 5.500L648 20.500"/></g>
<g stroke="#f2efeb" stroke-width="4.200" stroke-linecap="butt"><path d="M648 6.700L667 20.700"/><path d="M665.500 4.500L647.500 19.500"/></g>
</svg>
<div style="left:140.0px;top:113px;width:3px;height:266px;background:#b89f7f"></div>
<svg style="left:128.0px;top:99px" width="27" height="17" viewBox="128 99 27 17"><g fill="#bca383">
<rect x="136" y="110.600" width="11" height="3.500"/><rect x="137.300" y="107.500" width="8.400" height="3.200"/>
<path d="M141 101h1v3.500l1.200-1.800 .9 .4-1 3.200 1.600-1.300 .6-2.300 2.600-1.200 2.400 .7 .3 1.500-1.700-.2 1.200 1.700 1.600 2 1.400 2.600-.7 .4-2-2.700-2-1.200-.3 1.600-2.300 .4-1.300 1.800h-5.200l-1.300-1.800-2.300-.4-.3-1.600-2 1.200-2 2.700-.7-.4 1.400-2.600 1.600-2 1.200-1.700-1.700 .2 .3-1.500 2.400-.7 2.600 1.200 .6 2.300 1.600 1.300-1-3.200 .9-.4 1.200 1.800z"/>
</g><rect x="140.200" y="110.900" width="2.600" height="2.900" fill="#e3caa8"/>
<path d="M138.500 106.500l1.300 1-.3 1.700-1.500 .3-.8-1.500zM144.500 106.500l-1.300 1 .3 1.700 1.500 .3 .8-1.500z" fill="#e3caa8"/></svg>
<div style="left:291.0px;top:113px;width:3px;height:266px;background:#b89f7f"></div>
<svg style="left:279.0px;top:99px" width="27" height="17" viewBox="128 99 27 17"><g fill="#bca383">
<rect x="136" y="110.600" width="11" height="3.500"/><rect x="137.300" y="107.500" width="8.400" height="3.200"/>
<path d="M141 101h1v3.500l1.200-1.800 .9 .4-1 3.200 1.600-1.300 .6-2.300 2.600-1.200 2.400 .7 .3 1.500-1.700-.2 1.200 1.700 1.600 2 1.400 2.600-.7 .4-2-2.700-2-1.200-.3 1.600-2.300 .4-1.300 1.800h-5.200l-1.300-1.800-2.300-.4-.3-1.600-2 1.200-2 2.700-.7-.4 1.400-2.600 1.600-2 1.200-1.700-1.700 .2 .3-1.500 2.400-.7 2.600 1.200 .6 2.300 1.600 1.300-1-3.200 .9-.4 1.200 1.800z"/>
</g><rect x="140.200" y="110.900" width="2.600" height="2.900" fill="#e3caa8"/>
<path d="M138.500 106.500l1.300 1-.3 1.700-1.500 .3-.8-1.500zM144.500 106.500l-1.300 1 .3 1.700 1.500 .3 .8-1.500z" fill="#e3caa8"/></svg>
<div style="left:438.0px;top:113px;width:3px;height:266px;background:#b89f7f"></div>
<svg style="left:426.0px;top:99px" width="27" height="17" viewBox="128 99 27 17"><g fill="#bca383">
<rect x="136" y="110.600" width="11" height="3.500"/><rect x="137.300" y="107.500" width="8.400" height="3.200"/>
<path d="M141 101h1v3.500l1.200-1.800 .9 .4-1 3.200 1.600-1.300 .6-2.300 2.600-1.200 2.400 .7 .3 1.500-1.700-.2 1.200 1.700 1.600 2 1.400 2.600-.7 .4-2-2.700-2-1.200-.3 1.600-2.300 .4-1.300 1.800h-5.200l-1.300-1.800-2.300-.4-.3-1.600-2 1.200-2 2.700-.7-.4 1.400-2.600 1.600-2 1.200-1.700-1.700 .2 .3-1.500 2.400-.7 2.600 1.200 .6 2.300 1.600 1.300-1-3.200 .9-.4 1.200 1.800z"/>
</g><rect x="140.200" y="110.900" width="2.600" height="2.900" fill="#e3caa8"/>
<path d="M138.500 106.500l1.300 1-.3 1.700-1.500 .3-.8-1.500zM144.500 106.500l-1.300 1 .3 1.700 1.500 .3 .8-1.500z" fill="#e3caa8"/></svg>
<div style="left:495.0px;top:113px;width:3px;height:266px;background:#b89f7f"></div>
<svg style="left:483.0px;top:99px" width="27" height="17" viewBox="128 99 27 17"><g fill="#bca383">
<rect x="136" y="110.600" width="11" height="3.500"/><rect x="137.300" y="107.500" width="8.400" height="3.200"/>
<path d="M141 101h1v3.500l1.200-1.800 .9 .4-1 3.200 1.600-1.300 .6-2.300 2.600-1.200 2.400 .7 .3 1.500-1.700-.2 1.200 1.700 1.600 2 1.400 2.600-.7 .4-2-2.700-2-1.200-.3 1.600-2.300 .4-1.300 1.800h-5.200l-1.300-1.800-2.300-.4-.3-1.600-2 1.200-2 2.700-.7-.4 1.400-2.600 1.600-2 1.200-1.700-1.700 .2 .3-1.500 2.400-.7 2.600 1.200 .6 2.300 1.600 1.300-1-3.200 .9-.4 1.200 1.800z"/>
</g><rect x="140.200" y="110.900" width="2.600" height="2.900" fill="#e3caa8"/>
<path d="M138.500 106.500l1.300 1-.3 1.700-1.500 .3-.8-1.500zM144.500 106.500l-1.300 1 .3 1.700 1.500 .3 .8-1.500z" fill="#e3caa8"/></svg>
<div style="left:548.0px;top:113px;width:3px;height:266px;background:#b89f7f"></div>
<svg style="left:536.0px;top:99px" width="27" height="17" viewBox="128 99 27 17"><g fill="#bca383">
<rect x="136" y="110.600" width="11" height="3.500"/><rect x="137.300" y="107.500" width="8.400" height="3.200"/>
<path d="M141 101h1v3.500l1.200-1.800 .9 .4-1 3.200 1.600-1.300 .6-2.300 2.600-1.200 2.400 .7 .3 1.500-1.700-.2 1.200 1.700 1.600 2 1.400 2.600-.7 .4-2-2.700-2-1.200-.3 1.600-2.300 .4-1.300 1.800h-5.200l-1.300-1.800-2.300-.4-.3-1.600-2 1.200-2 2.700-.7-.4 1.400-2.600 1.600-2 1.200-1.700-1.700 .2 .3-1.500 2.400-.7 2.600 1.200 .6 2.300 1.600 1.300-1-3.200 .9-.4 1.200 1.800z"/>
</g><rect x="140.200" y="110.900" width="2.600" height="2.900" fill="#e3caa8"/>
<path d="M138.500 106.500l1.300 1-.3 1.700-1.500 .3-.8-1.500zM144.500 106.500l-1.300 1 .3 1.700 1.500 .3 .8-1.500z" fill="#e3caa8"/></svg>
<div class="h" style="left:115.2px;font-size:13px">Ранг</div>
<div class="h" style="left:215.3px;font-size:13px;letter-spacing:.5px">Имя</div>
<div class="h" style="left:367.7px;">Альянс</div>
<div class="h" style="left:468.3px;top:110px">Уровень</div>
<svg style="left:503px;top:98px" width="40" height="38" viewBox="503 98 40 38">
<path d="M509 101.200L537 103 538.700 132.700 526 131.500 505.300 129.200z" fill="#ecd4aa"/>
<g fill="none" stroke="#8a6f57" stroke-width="1.300"><path d="M511.800 101.300H509L508 110M507.800 112L505.500 129.200 518 130.500"/><path d="M514.500 102.200L533 103"/><path d="M536.800 103.500L537.500 116M537.800 118L538.600 132.600 529 132.400M527 131.600L519 130.800"/></g>
<path d="M511 118c3-4 9-3 13-1s5 6 1 7-9 0-12-1-3-3-2-5z" fill="#dcc096"/>
<path d="M521 108c2-2 6-1.500 8 0s-1 3-3 2.500-4-1-5-2.500z" fill="#dcc096"/>
<g stroke="#8f4a18" stroke-width="1.500" fill="none"><path d="M527 107.500h-4M520 107.500l-2 1.500M517.500 111v2M520 115.500l3 1.500M525.500 118l1.500 1M528.500 121.500l-.5 1.500M526.500 124.500h-3M521.500 124.500h-3.500"/></g>
<g stroke="#c12a1a" stroke-width="2" fill="none"><path d="M528.500 105.500l6 6M535 105l-6 6.500"/><path d="M509.500 121l6 6M516 120.500l-6 6.500"/></g>
</svg>
<svg style="left:580px;top:96px" width="50" height="44" viewBox="580 96 50 44">
<path d="M609.9 132.4 L608.0 132.8 L606.1 133.0 L604.2 133.0 L602.2 132.8 L600.3 132.5 L598.4 132.0 L596.6 131.4 L594.9 130.5 L593.3 129.6 L591.9 128.5 L590.6 127.2 L589.4 125.9 L588.4 124.4 L587.6 122.9 L586.9 121.3 L586.5 119.6 L586.2 117.9 L586.2 116.2 L586.4 114.5 L586.8 112.9 L587.3 111.3 L588.1 109.7 L589.0 108.2 L590.1 106.8 L591.4 105.5 L592.8 104.4" transform="translate(1.2 1.2)" stroke="#b9a283" stroke-width="1.600" fill="none" opacity=".7"/><path d="M608.6 134.0L606.9 136.6" stroke="#b9a283" stroke-width="1.500" stroke-linecap="round" opacity=".6"/><path d="M605.0 134.2L602.8 136.4" stroke="#b9a283" stroke-width="1.500" stroke-linecap="round" opacity=".6"/><path d="M601.5 133.7L598.9 135.5" stroke="#b9a283" stroke-width="1.500" stroke-linecap="round" opacity=".6"/><path d="M598.1 132.7L595.3 133.9" stroke="#b9a283" stroke-width="1.500" stroke-linecap="round" opacity=".6"/><path d="M595.1 131.1L592.0 131.7" stroke="#b9a283" stroke-width="1.500" stroke-linecap="round" opacity=".6"/><path d="M592.4 129.0L589.3 129.1" stroke="#b9a283" stroke-width="1.500" stroke-linecap="round" opacity=".6"/><path d="M590.2 126.6L587.2 126.1" stroke="#b9a283" stroke-width="1.500" stroke-linecap="round" opacity=".6"/><path d="M588.6 123.8L585.7 122.7" stroke="#b9a283" stroke-width="1.500" stroke-linecap="round" opacity=".6"/><path d="M587.7 120.8L585.0 119.2" stroke="#b9a283" stroke-width="1.500" stroke-linecap="round" opacity=".6"/><path d="M587.4 117.7L585.1 115.6" stroke="#b9a283" stroke-width="1.500" stroke-linecap="round" opacity=".6"/><path d="M587.8 114.6L586.0 112.1" stroke="#b9a283" stroke-width="1.500" stroke-linecap="round" opacity=".6"/><path d="M588.9 111.7L587.5 108.9" stroke="#b9a283" stroke-width="1.500" stroke-linecap="round" opacity=".6"/><path d="M590.6 108.9L589.8 105.9" stroke="#b9a283" stroke-width="1.500" stroke-linecap="round" opacity=".6"/><path d="M592.8 106.5L592.6 103.5" stroke="#b9a283" stroke-width="1.500" stroke-linecap="round" opacity=".6"/><path d="M599.7 132.4 L601.6 132.8 L603.5 133.0 L605.4 133.0 L607.4 132.8 L609.3 132.5 L611.2 132.0 L613.0 131.4 L614.7 130.5 L616.3 129.6 L617.7 128.5 L619.0 127.2 L620.2 125.9 L621.2 124.4 L622.0 122.9 L622.7 121.3 L623.1 119.6 L623.4 117.9 L623.4 116.2 L623.2 114.5 L622.8 112.9 L622.3 111.3 L621.5 109.7 L620.6 108.2 L619.5 106.8 L618.2 105.5 L616.8 104.4" transform="translate(1.2 1.2)" stroke="#b9a283" stroke-width="1.600" fill="none" opacity=".7"/><path d="M603.4 134.0L605.1 136.6" stroke="#b9a283" stroke-width="1.500" stroke-linecap="round" opacity=".6"/><path d="M607.0 134.2L609.2 136.4" stroke="#b9a283" stroke-width="1.500" stroke-linecap="round" opacity=".6"/><path d="M610.5 133.7L613.1 135.5" stroke="#b9a283" stroke-width="1.500" stroke-linecap="round" opacity=".6"/><path d="M613.9 132.7L616.7 133.9" stroke="#b9a283" stroke-width="1.500" stroke-linecap="round" opacity=".6"/><path d="M616.9 131.1L620.0 131.7" stroke="#b9a283" stroke-width="1.500" stroke-linecap="round" opacity=".6"/><path d="M619.6 129.0L622.7 129.1" stroke="#b9a283" stroke-width="1.500" stroke-linecap="round" opacity=".6"/><path d="M621.8 126.6L624.8 126.1" stroke="#b9a283" stroke-width="1.500" stroke-linecap="round" opacity=".6"/><path d="M623.4 123.8L626.3 122.7" stroke="#b9a283" stroke-width="1.500" stroke-linecap="round" opacity=".6"/><path d="M624.3 120.8L627.0 119.2" stroke="#b9a283" stroke-width="1.500" stroke-linecap="round" opacity=".6"/><path d="M624.6 117.7L626.9 115.6" stroke="#b9a283" stroke-width="1.500" stroke-linecap="round" opacity=".6"/><path d="M624.2 114.6L626.0 112.1" stroke="#b9a283" stroke-width="1.500" stroke-linecap="round" opacity=".6"/><path d="M623.1 111.7L624.5 108.9" stroke="#b9a283" stroke-width="1.500" stroke-linecap="round" opacity=".6"/><path d="M621.4 108.9L622.2 105.9" stroke="#b9a283" stroke-width="1.500" stroke-linecap="round" opacity=".6"/><path d="M619.2 106.5L619.4 103.5" stroke="#b9a283" stroke-width="1.500" stroke-linecap="round" opacity=".6"/><path d="M609.9 132.4 L608.0 132.8 L606.1 133.0 L604.2 133.0 L602.2 132.8 L600.3 132.5 L598.4 132.0 L596.6 131.4 L594.9 130.5 L593.3 129.6 L591.9 128.5 L590.6 127.2 L589.4 125.9 L588.4 124.4 L587.6 122.9 L586.9 121.3 L586.5 119.6 L586.2 117.9 L586.2 116.2 L586.4 114.5 L586.8 112.9 L587.3 111.3 L588.1 109.7 L589.0 108.2 L590.1 106.8 L591.4 105.5 L592.8 104.4" stroke="#f3bd2f" stroke-width="1.400" fill="none"/><path d="M607.4 132.8L605.7 135.4" stroke="#c4621b" stroke-width="1.500" stroke-linecap="round"/><path d="M607.4 132.8L605.1 131.5" stroke="#f3bd2f" stroke-width="1.300" stroke-linecap="round"/><path d="M603.8 133.0L601.6 135.2" stroke="#e08a22" stroke-width="1.500" stroke-linecap="round"/><path d="M603.8 133.0L601.9 131.3" stroke="#c4621b" stroke-width="1.300" stroke-linecap="round"/><path d="M600.3 132.5L597.7 134.3" stroke="#c4621b" stroke-width="1.500" stroke-linecap="round"/><path d="M600.3 132.5L598.7 130.5" stroke="#f3bd2f" stroke-width="1.300" stroke-linecap="round"/><path d="M596.9 131.5L594.1 132.7" stroke="#e08a22" stroke-width="1.500" stroke-linecap="round"/><path d="M596.9 131.5L595.7 129.2" stroke="#c4621b" stroke-width="1.300" stroke-linecap="round"/><path d="M593.9 129.9L590.8 130.5" stroke="#c4621b" stroke-width="1.500" stroke-linecap="round"/><path d="M593.9 129.9L593.1 127.4" stroke="#f3bd2f" stroke-width="1.300" stroke-linecap="round"/><path d="M591.2 127.8L588.1 127.9" stroke="#e08a22" stroke-width="1.500" stroke-linecap="round"/><path d="M591.2 127.8L590.9 125.3" stroke="#c4621b" stroke-width="1.300" stroke-linecap="round"/><path d="M589.0 125.4L586.0 124.9" stroke="#c4621b" stroke-width="1.500" stroke-linecap="round"/><path d="M589.0 125.4L589.2 122.8" stroke="#f3bd2f" stroke-width="1.300" stroke-linecap="round"/><path d="M587.4 122.6L584.5 121.5" stroke="#e08a22" stroke-width="1.500" stroke-linecap="round"/><path d="M587.4 122.6L588.2 120.1" stroke="#c4621b" stroke-width="1.300" stroke-linecap="round"/><path d="M586.5 119.6L583.8 118.0" stroke="#c4621b" stroke-width="1.500" stroke-linecap="round"/><path d="M586.5 119.6L587.7 117.3" stroke="#f3bd2f" stroke-width="1.300" stroke-linecap="round"/><path d="M586.2 116.5L583.9 114.4" stroke="#e08a22" stroke-width="1.500" stroke-linecap="round"/><path d="M586.2 116.5L587.8 114.5" stroke="#c4621b" stroke-width="1.300" stroke-linecap="round"/><path d="M586.6 113.4L584.8 110.9" stroke="#c4621b" stroke-width="1.500" stroke-linecap="round"/><path d="M586.6 113.4L588.6 111.8" stroke="#f3bd2f" stroke-width="1.300" stroke-linecap="round"/><path d="M587.7 110.5L586.3 107.7" stroke="#e08a22" stroke-width="1.500" stroke-linecap="round"/><path d="M587.7 110.5L590.0 109.2" stroke="#c4621b" stroke-width="1.300" stroke-linecap="round"/><path d="M589.4 107.7L588.6 104.7" stroke="#c4621b" stroke-width="1.500" stroke-linecap="round"/><path d="M589.4 107.7L591.9 107.0" stroke="#f3bd2f" stroke-width="1.300" stroke-linecap="round"/><path d="M591.6 105.3L591.4 102.3" stroke="#e08a22" stroke-width="1.500" stroke-linecap="round"/><path d="M591.6 105.3L594.2 105.1" stroke="#c4621b" stroke-width="1.300" stroke-linecap="round"/><path d="M599.7 132.4 L601.6 132.8 L603.5 133.0 L605.4 133.0 L607.4 132.8 L609.3 132.5 L611.2 132.0 L613.0 131.4 L614.7 130.5 L616.3 129.6 L617.7 128.5 L619.0 127.2 L620.2 125.9 L621.2 124.4 L622.0 122.9 L622.7 121.3 L623.1 119.6 L623.4 117.9 L623.4 116.2 L623.2 114.5 L622.8 112.9 L622.3 111.3 L621.5 109.7 L620.6 108.2 L619.5 106.8 L618.2 105.5 L616.8 104.4" stroke="#f3bd2f" stroke-width="1.400" fill="none"/><path d="M602.2 132.8L603.9 135.4" stroke="#c4621b" stroke-width="1.500" stroke-linecap="round"/><path d="M602.2 132.8L604.5 131.5" stroke="#f3bd2f" stroke-width="1.300" stroke-linecap="round"/><path d="M605.8 133.0L608.0 135.2" stroke="#e08a22" stroke-width="1.500" stroke-linecap="round"/><path d="M605.8 133.0L607.7 131.3" stroke="#c4621b" stroke-width="1.300" stroke-linecap="round"/><path d="M609.3 132.5L611.9 134.3" stroke="#c4621b" stroke-width="1.500" stroke-linecap="round"/><path d="M609.3 132.5L610.9 130.5" stroke="#f3bd2f" stroke-width="1.300" stroke-linecap="round"/><path d="M612.7 131.5L615.5 132.7" stroke="#e08a22" stroke-width="1.500" stroke-linecap="round"/><path d="M612.7 131.5L613.9 129.2" stroke="#c4621b" stroke-width="1.300" stroke-linecap="round"/><path d="M615.7 129.9L618.8 130.5" stroke="#c4621b" stroke-width="1.500" stroke-linecap="round"/><path d="M615.7 129.9L616.5 127.4" stroke="#f3bd2f" stroke-width="1.300" stroke-linecap="round"/><path d="M618.4 127.8L621.5 127.9" stroke="#e08a22" stroke-width="1.500" stroke-linecap="round"/><path d="M618.4 127.8L618.7 125.3" stroke="#c4621b" stroke-width="1.300" stroke-linecap="round"/><path d="M620.6 125.4L623.6 124.9" stroke="#c4621b" stroke-width="1.500" stroke-linecap="round"/><path d="M620.6 125.4L620.4 122.8" stroke="#f3bd2f" stroke-width="1.300" stroke-linecap="round"/><path d="M622.2 122.6L625.1 121.5" stroke="#e08a22" stroke-width="1.500" stroke-linecap="round"/><path d="M622.2 122.6L621.4 120.1" stroke="#c4621b" stroke-width="1.300" stroke-linecap="round"/><path d="M623.1 119.6L625.8 118.0" stroke="#c4621b" stroke-width="1.500" stroke-linecap="round"/><path d="M623.1 119.6L621.9 117.3" stroke="#f3bd2f" stroke-width="1.300" stroke-linecap="round"/><path d="M623.4 116.5L625.7 114.4" stroke="#e08a22" stroke-width="1.500" stroke-linecap="round"/><path d="M623.4 116.5L621.8 114.5" stroke="#c4621b" stroke-width="1.300" stroke-linecap="round"/><path d="M623.0 113.4L624.8 110.9" stroke="#c4621b" stroke-width="1.500" stroke-linecap="round"/><path d="M623.0 113.4L621.0 111.8" stroke="#f3bd2f" stroke-width="1.300" stroke-linecap="round"/><path d="M621.9 110.5L623.3 107.7" stroke="#e08a22" stroke-width="1.500" stroke-linecap="round"/><path d="M621.9 110.5L619.6 109.2" stroke="#c4621b" stroke-width="1.300" stroke-linecap="round"/><path d="M620.2 107.7L621.0 104.7" stroke="#c4621b" stroke-width="1.500" stroke-linecap="round"/><path d="M620.2 107.7L617.7 107.0" stroke="#f3bd2f" stroke-width="1.300" stroke-linecap="round"/><path d="M618.0 105.3L618.2 102.3" stroke="#e08a22" stroke-width="1.500" stroke-linecap="round"/><path d="M618.0 105.3L615.4 105.1" stroke="#c4621b" stroke-width="1.300" stroke-linecap="round"/>
<path d="M595.500 117h19l-2 10.500h-15z" fill="#48aecb"/>
<path d="M598 118.500h1.500l.8 8.500h-1.500zM602 118.500h1.500l.3 8.500h-1.500zM606 118.500h1.500l-.3 8.500h-1.500zM610 118.500h1.500l-.8 8.500h-1.500z" fill="#7fd3ea"/>
<path d="M593 113.500c0-3 2.500-4.500 4-4.800h15.500c2 .3 4 2 4.200 4.800l-.6 3.200c-4 1.200-18 1.200-22.600 0z" fill="#8c4b20"/>
<path d="M593 114.500h23.700l-.6 2.700c-4 1.200-18 1.200-22.600 0z" fill="#5e3216"/>
<path d="M597 109.500c.5-2 3-2.600 5-2.600h7c2 0 4 .5 4.500 2.300l-1 1.600-3 .3 1.500 2.700-1.500.2-3-2.700-8.500-.3z" fill="#f3dcd8"/>
<path d="M602 107.500c0-2.600 1.500-3.600 3-3.600s3.300 1 3.300 3.600z" fill="#c3291c"/>
<rect x="603" y="104" width="2" height="1.300" fill="#e8a09a"/>
</svg>
<div class="row gold" style="top:153px"><div class="in">
<svg style="left:0px;top:-17px;overflow:visible" width="30" height="30" viewBox="87 138 30 30"><defs><radialGradient id="g370"><stop offset="0" stop-color="#fff" stop-opacity=".55"/><stop offset=".38" stop-color="#fff" stop-opacity=".45"/><stop offset=".42" stop-color="#fff" stop-opacity=".32"/><stop offset=".7" stop-color="#fff" stop-opacity=".28"/><stop offset=".75" stop-color="#fff" stop-opacity=".16"/><stop offset=".96" stop-color="#fff" stop-opacity=".13"/><stop offset="1" stop-color="#fff" stop-opacity="0"/></radialGradient></defs><circle cx="102.400" cy="151.300" r="10.800" fill="url(#g370)"/>
<g stroke="#c4921d" stroke-width=".75" fill="none" stroke-linejoin="round"><path d="M92.500 158.800L96 163h10l3.500-4.200-3.800 2.600-1.600-3.400-3.100 3.400-3.100-3.400-1.600 3.400z"/><path d="M94 164.800h14"/></g><g fill="#c4921d"><circle cx="101" cy="157.600" r=".8"/><circle cx="97.500" cy="158.300" r=".7"/><circle cx="104.500" cy="158.300" r=".7"/></g></svg>
<div class="c" style="left:24px;width:30px;margin-left:0;text-align:left">1</div>
<div class="c" style="left:128.84px;letter-spacing:-0.33px">ALEX53</div>
<div class="c" style="left:277.62px;letter-spacing:0.23px">Медвежья услуга</div>
<div class="c" style="left:380px">11</div>
<div class="c" style="left:436px">587</div>
<div class="c" style="left:519px">667</div>
<svg style="left:553px;top:1px" width="18" height="13" viewBox="553 1 18 13"><g stroke="#cf9d28" stroke-width="1" fill="none"><path d="M556.500 2.500l1 2M556 5.500c.5 2 .5 4 .8 5.500h2.500M559 5c1.500-1.500 3.500-.5 3 1.500s-2 2.500-3 2M560 8.500l2 2M558.500 4l3-1.500"/></g><path d="M561.500 5h2V3l4 3.600-4 3.600v-2h-2z" fill="#cf9d28"/></svg>
</div></div>
<div class="row" style="top:181px"><div class="in">
<svg style="left:2px;top:2px" width="16" height="9" viewBox="2 2 16 9"><path d="M4 6L7 3.200V8.900z" fill="#ba7259"/><g stroke="#ba7259" stroke-width=".9" fill="none"><path d="M10.500 4.500c.5-1 2.500-1.200 3.500-.3s.3 2.600-1 2.600M10.300 5.500l2.200 2.500h2.500"/></g></svg>
<div class="c" style="left:23px;width:30px;margin-left:0;text-align:left">2</div>
<div class="c" style="left:128.24px;letter-spacing:0.47px">ролшре</div>
<div class="c" style="left:276.62px;letter-spacing:0.23px">Медвежья услуга</div>
<div class="c" style="left:379px">10</div>
<div class="c" style="left:435px">483</div>
<div class="c" style="left:518px">411</div>
<svg style="left:553px;top:2px" width="16" height="9" viewBox="553 2 16 9"><g stroke="#ba7259" stroke-width=".9" fill="none"><path d="M556 4.500c1.200-1.200 3.600-.6 3.400 1.200S557 8.500 555.500 8M557 5.500l1.200 1"/></g><path d="M563 3.200l3 2.900-3 2.800z" fill="#ba7259"/></svg>
</div></div>
<div class="row" style="top:208px"><div class="in">
<svg style="left:2px;top:2px" width="16" height="9" viewBox="2 2 16 9"><path d="M4 6L7 3.200V8.900z" fill="#ba7259"/><g stroke="#ba7259" stroke-width=".9" fill="none"><path d="M10.500 4.500c.5-1 2.500-1.200 3.500-.3s.3 2.600-1 2.600M10.300 5.500l2.200 2.500h2.500"/></g></svg>
<div class="c" style="left:23px;width:30px;margin-left:0;text-align:left">3</div>
<div class="c" style="left:128.20px;letter-spacing:0.4px">Macedonets</div>
<div class="c" style="left:276.62px;letter-spacing:0.23px">Медвежья услуга</div>
<div class="c" style="left:379px">10</div>
<div class="c" style="left:435px">11</div>
<div class="c" style="left:518px">360</div>
<svg style="left:553px;top:2px" width="16" height="9" viewBox="553 2 16 9"><g stroke="#ba7259" stroke-width=".9" fill="none"><path d="M556 4.500c1.200-1.200 3.600-.6 3.400 1.200S557 8.500 555.500 8M557 5.500l1.200 1"/></g><path d="M563 3.200l3 2.900-3 2.800z" fill="#ba7259"/></svg>
</div></div>
<div class="row" style="top:236px"><div class="in">
<svg style="left:2px;top:2px" width="16" height="9" viewBox="2 2 16 9"><path d="M4 6L7 3.200V8.900z" fill="#ba7259"/><g stroke="#ba7259" stroke-width=".9" fill="none"><path d="M10.500 4.500c.5-1 2.500-1.200 3.500-.3s.3 2.600-1 2.600M10.300 5.500l2.200 2.500h2.500"/></g></svg>
<div class="c" style="left:23px;width:30px;margin-left:0;text-align:left">4</div>
<div class="c" style="left:128.05px;letter-spacing:0.1px">ZirocooL</div>
<div class="c" style="left:276.62px;letter-spacing:0.23px">Медвежья услуга</div>
<div class="c" style="left:379px">10</div>
<div class="c" style="left:435px">495</div>
<div class="c" style="left:518px">229</div>
<svg style="left:553px;top:2px" width="16" height="9" viewBox="553 2 16 9"><g stroke="#ba7259" stroke-width=".9" fill="none"><path d="M556 4.500c1.200-1.200 3.600-.6 3.400 1.200S557 8.500 555.500 8M557 5.500l1.200 1"/></g><path d="M563 3.200l3 2.900-3 2.800z" fill="#ba7259"/></svg>
</div></div>
<div class="row" style="top:264px"><div class="in">
<svg style="left:2px;top:2px" width="16" height="9" viewBox="2 2 16 9"><path d="M4 6L7 3.200V8.900z" fill="#ba7259"/><g stroke="#ba7259" stroke-width=".9" fill="none"><path d="M10.500 4.500c.5-1 2.500-1.200 3.500-.3s.3 2.600-1 2.600M10.300 5.500l2.200 2.500h2.500"/></g></svg>
<div class="c" style="left:23px;width:30px;margin-left:0;text-align:left">5</div>
<div class="c" style="left:128.13px;letter-spacing:0.26px">Romantic Lover</div>
<div class="c" style="left:276.68px;letter-spacing:0.36px">NWO 4</div>
<div class="c" style="left:379px">11</div>
<div class="c" style="left:435px">523</div>
<div class="c" style="left:518px">136</div>
<svg style="left:553px;top:2px" width="16" height="9" viewBox="553 2 16 9"><g stroke="#ba7259" stroke-width=".9" fill="none"><path d="M556 4.500c1.200-1.200 3.600-.6 3.400 1.200S557 8.500 555.500 8M557 5.500l1.200 1"/></g><path d="M563 3.200l3 2.900-3 2.800z" fill="#ba7259"/></svg>
</div></div>
<div class="row" style="top:291px"><div class="in">
<svg style="left:2px;top:2px" width="16" height="9" viewBox="2 2 16 9"><path d="M4 6L7 3.200V8.900z" fill="#ba7259"/><g stroke="#ba7259" stroke-width=".9" fill="none"><path d="M10.500 4.500c.5-1 2.500-1.200 3.500-.3s.3 2.600-1 2.600M10.300 5.500l2.200 2.500h2.500"/></g></svg>
<div class="c" style="left:23px;width:30px;margin-left:0;text-align:left">6</div>
<div class="c" style="left:128.08px;letter-spacing:0.16px">КоляВ1</div>
<div class="c" style="left:276.62px;letter-spacing:0.23px">Медвежья услуга</div>
<div class="c" style="left:379px">10</div>
<div class="c" style="left:435px">17</div>
<div class="c" style="left:518px">123</div>
<svg style="left:553px;top:2px" width="16" height="9" viewBox="553 2 16 9"><g stroke="#ba7259" stroke-width=".9" fill="none"><path d="M556 4.500c1.200-1.200 3.600-.6 3.400 1.200S557 8.500 555.500 8M557 5.500l1.200 1"/></g><path d="M563 3.200l3 2.900-3 2.800z" fill="#ba7259"/></svg>
</div></div>
<div class="row" style="top:319px"><div class="in">
<svg style="left:2px;top:2px" width="16" height="9" viewBox="2 2 16 9"><path d="M4 6L7 3.200V8.900z" fill="#ba7259"/><g stroke="#ba7259" stroke-width=".9" fill="none"><path d="M10.500 4.500c.5-1 2.500-1.200 3.500-.3s.3 2.600-1 2.600M10.300 5.500l2.200 2.500h2.500"/></g></svg>
<div class="c" style="left:23px;width:30px;margin-left:0;text-align:left">7</div>
<div class="c" style="left:128.23px;letter-spacing:0.46px">Chocolatin</div>
<div class="c" style="left:276.83px;letter-spacing:0.66px">Oblivion</div>
<div class="c" style="left:379px">10</div>
<div class="c" style="left:435px">595</div>
<div class="c" style="left:518px">71</div>
<svg style="left:553px;top:2px" width="16" height="9" viewBox="553 2 16 9"><g stroke="#ba7259" stroke-width=".9" fill="none"><path d="M556 4.500c1.200-1.200 3.600-.6 3.400 1.200S557 8.500 555.500 8M557 5.500l1.200 1"/></g><path d="M563 3.200l3 2.900-3 2.800z" fill="#ba7259"/></svg>
</div></div>
<div class="row" style="top:346px"><div class="in">
<svg style="left:2px;top:2px" width="16" height="9" viewBox="2 2 16 9"><path d="M4 6L7 3.200V8.900z" fill="#ba7259"/><g stroke="#ba7259" stroke-width=".9" fill="none"><path d="M10.500 4.500c.5-1 2.500-1.200 3.500-.3s.3 2.600-1 2.600M10.300 5.500l2.200 2.500h2.500"/></g></svg>
<div class="c" style="left:23px;width:30px;margin-left:0;text-align:left">8</div>
<div class="c" style="left:128.31px;letter-spacing:0.62px">maw-</div>
<div class="c" style="left:276.62px;letter-spacing:0.23px">Медвежья услуга</div>
<div class="c" style="left:379px">10</div>
<div class="c" style="left:435px">22</div>
<div class="c" style="left:518px">69</div>
<svg style="left:553px;top:2px" width="16" height="9" viewBox="553 2 16 9"><g stroke="#ba7259" stroke-width=".9" fill="none"><path d="M556 4.500c1.200-1.200 3.600-.6 3.400 1.200S557 8.500 555.500 8M557 5.500l1.200 1"/></g><path d="M563 3.200l3 2.900-3 2.800z" fill="#ba7259"/></svg>
</div></div>
<svg style="left:664px;top:122px" width="40" height="232" viewBox="664 122 40 232">
<!-- top button -->
<path d="M670.500 129h29v5h-13l12.500 13h-27.500l11-13h-12z" fill="#bfa27e" opacity=".8"/>
<rect x="669" y="127" width="29" height="5.500" fill="#cfcfcf"/>
<rect x="670.500" y="128.300" width="26" height="3.400" fill="#333"/>
<path d="M683 133l13.500 13h-27z" fill="#d8d8d8"/>
<path d="M684 135l12.500 11h-26z" fill="#8c8c8c"/>
<path d="M683.500 135.500l10 8.700h-20.500z" fill="#353535"/>
<!-- up -->
<path d="M685 171l13.500 13.500h-27z" fill="#bfa27e" opacity=".8"/>
<path d="M683 169.500l13.500 13.500h-27z" fill="#d8d8d8"/>
<path d="M684 171.500l12.500 11.500h-26z" fill="#8c8c8c"/>
<path d="M683.500 172l10 9h-20.500z" fill="#353535"/>
<!-- ornament -->
<g fill="none" stroke="#d5ba95" stroke-width="1.100"><path d="M685.300 208v6.500M681 212h8.600"/><path d="M685.300 322.500v3M685.300 327.500v2.500"/></g>
<g fill="none" stroke="#d5ba95" stroke-width="1.200">
<path d="M684 228.500v15M686.600 228.500v15"/>
<path d="M684 229.500c-4-.5-8 1.500-8.500 5s.5 5.500 2.500 6h5.500"/>
<path d="M686.600 229.500c4-.5 8 1.500 8.500 5s-.5 5.500-2.500 6h-5.500"/>
<path d="M679 236.500h2.500M691.600 236.500h-2.500"/>
<path d="M684 243.800c-4-.5-8.500 1-9.500 4.500s.5 5 2 5M686.600 243.800c4-.5 8.500 1 9.500 4.500s-.5 5-2 5"/>
<path d="M672 251.500l2-1 2 1.500M672.500 254.200h4M698.600 251.500l-2-1-2 1.500M698.100 254.200h-4"/>
<path d="M684.500 244l-5.500 13M686.100 244l5.500 13"/>
<path d="M685.300 220l1.300 3.700 3.400 1.300-3.400 1.300-1.300 3.700-1.300-3.700-3.400-1.300 3.400-1.300z" fill="#d5ba95" stroke="none"/>
<path d="M680 257.500l2-2.500 1.500 3 1.800-4.500 1.800 4.500 1.500-3 2 2.500 2.500 5.500 4 7h-23.600l4-7z" fill="#d5ba95" stroke="none"/>
<path d="M673 270l4.500-4.500v4.500zM697.600 270l-4.500-4.500v4.500z" fill="#d5ba95" stroke="none"/>
</g>
<g transform="translate(0 540) scale(1 -1)" fill="none" stroke="#d5ba95" stroke-width="1.200">
<path d="M684 228.500v15M686.600 228.500v15"/>
<path d="M684 229.500c-4-.5-8 1.500-8.500 5s.5 5.500 2.500 6h5.500"/>
<path d="M686.600 229.500c4-.5 8 1.500 8.500 5s-.5 5.500-2.500 6h-5.500"/>
<path d="M679 236.500h2.500M691.600 236.500h-2.500"/>
<path d="M684 243.800c-4-.5-8.500 1-9.500 4.500s.5 5 2 5M686.600 243.800c4-.5 8.500 1 9.500 4.500s-.5 5-2 5"/>
<path d="M672 251.500l2-1 2 1.500M672.500 254.200h4M698.600 251.500l-2-1-2 1.500M698.100 254.200h-4"/>
<path d="M684.500 244l-5.500 13M686.100 244l5.500 13"/>
<path d="M685.300 220l1.300 3.700 3.400 1.300-3.400 1.300-1.300 3.700-1.300-3.700-3.400-1.300 3.400-1.300z" fill="#d5ba95" stroke="none"/>
<path d="M680 257.500l2-2.500 1.500 3 1.800-4.500 1.800 4.500 1.500-3 2 2.500 2.500 5.500 4 7h-23.600l4-7z" fill="#d5ba95" stroke="none"/>
<path d="M673 270l4.500-4.500v4.500zM697.600 270l-4.500-4.500v4.500z" fill="#d5ba95" stroke="none"/>
</g>
<ellipse cx="685.300" cy="270" rx="4.300" ry="1.800" fill="#e2c9a6"/>
<path d="M683 277l2.300 8 2.300-8-2.300 2.500z" fill="#e2c9a6"/>
<!-- down -->
<path d="M671 335h30.500l-15 15.500z" fill="#9c8a6c" opacity=".75"/>
<path d="M669 333h30.500l-15 15.500z" fill="#f0b83a"/>
<path d="M669 333h30.500l-1.500 1.600h-27.500z" fill="#c4851a"/>
<path d="M672.500 335h23l-11.500 11.500z" fill="#951b0b"/>
<path d="M678 335h3l4 9-1 1zM688 335h3l-5 10z" fill="#c0331d"/>
</svg>
</div>
<div style="position:absolute;left:0;top:775px;width:705px;height:2px;background:#f1eee9"></div>
</body></html>
